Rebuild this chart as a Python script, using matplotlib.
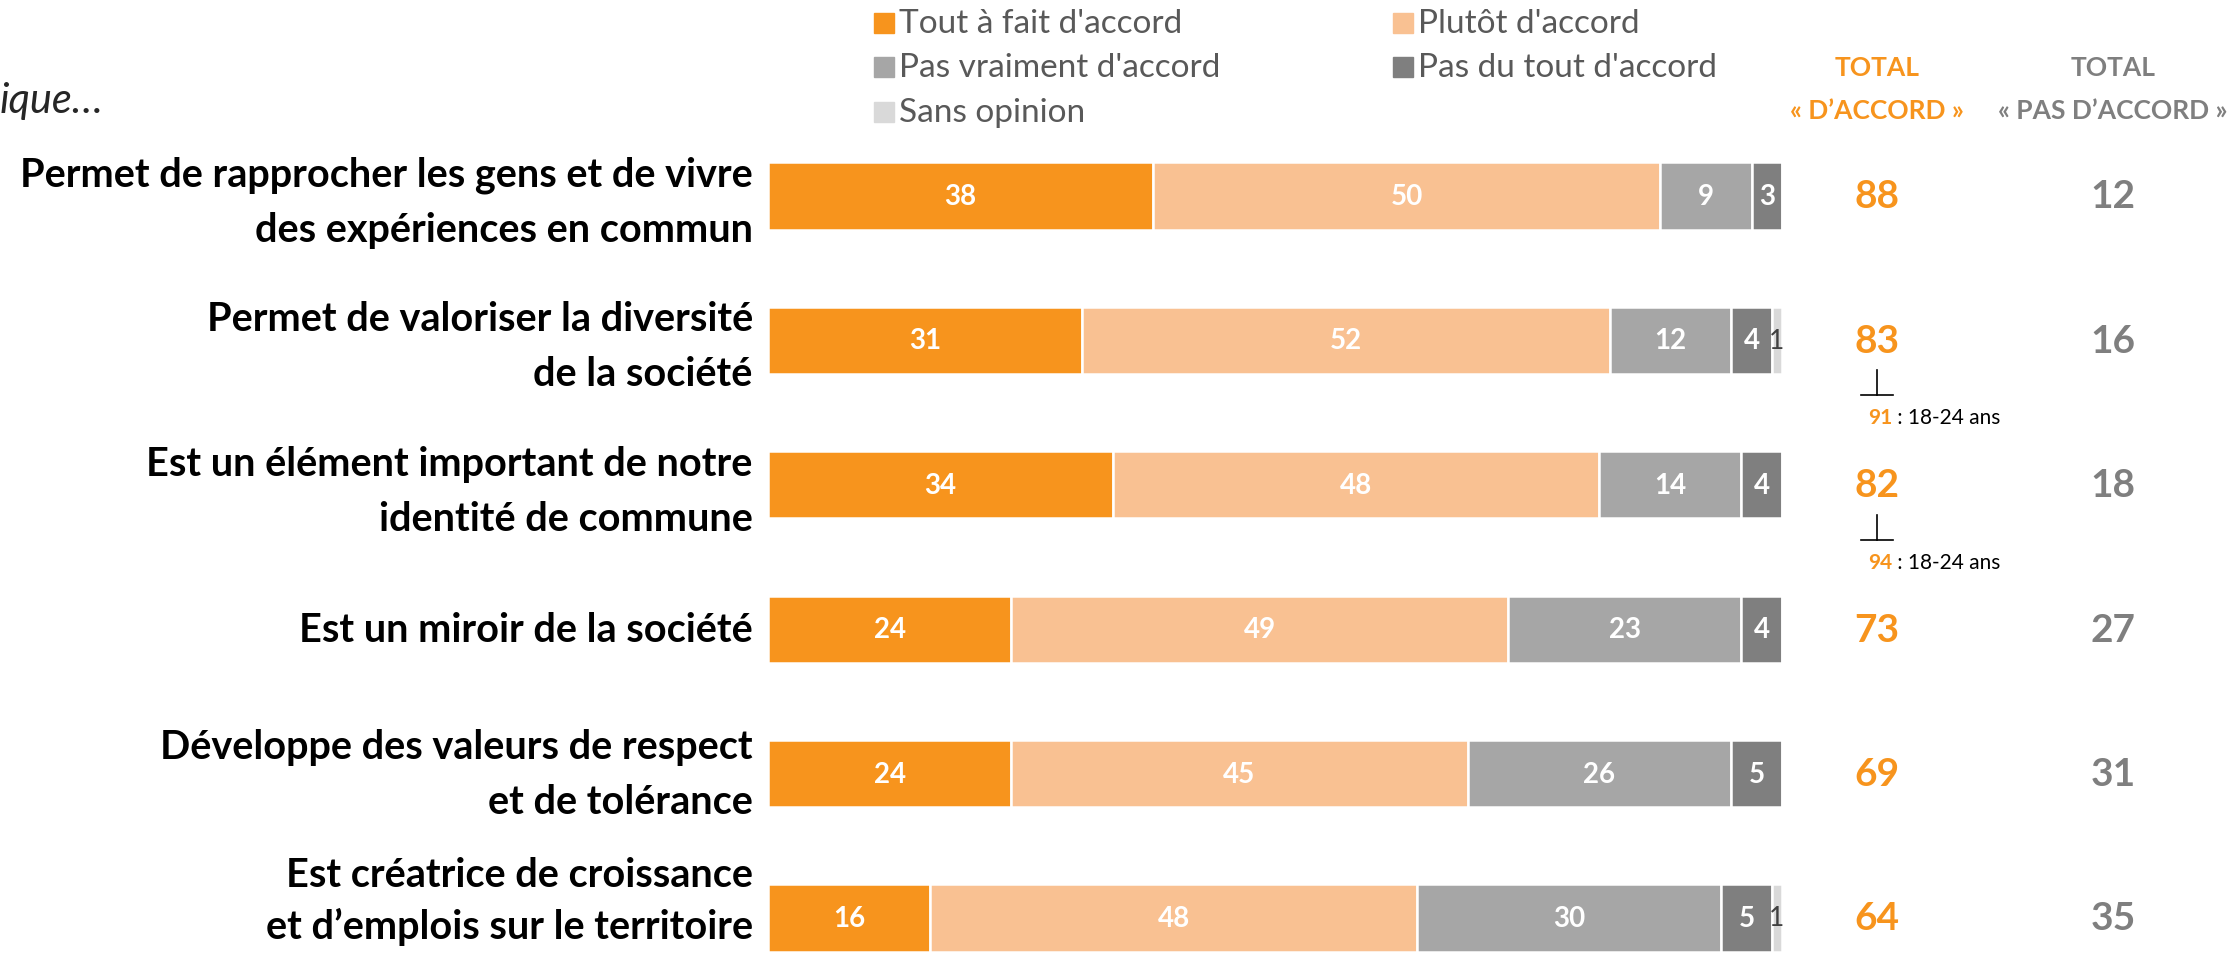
import matplotlib
matplotlib.use("Agg")
import matplotlib.pyplot as plt
from matplotlib.patches import Rectangle

plt.rcParams['font.family'] = ['Lato', 'DejaVu Sans']

categories = [
    "Permet de rapprocher les gens et de vivre\ndes expériences en commun",
    "Permet de valoriser la diversité\nde la société",
    "Est un élément important de notre\nidentité de commune",
    "Est un miroir de la société",
    "Développe des valeurs de respect\net de tolérance",
    "Est créatrice de croissance\net d’emplois sur le territoire",
]
series_names = ["Tout à fait d'accord", "Plutôt d'accord", "Pas vraiment d'accord",
                "Pas du tout d'accord", "Sans opinion"]
tout_a_fait = [38, 31, 34, 24, 24, 16]
plutot = [50, 52, 48, 49, 45, 48]
pas_vraiment = [9, 12, 14, 23, 26, 30]
pas_du_tout = [3, 4, 4, 4, 5, 5]
sans_opinion = [0, 1, 0, 0, 0, 1]
total_accord = [88, 83, 82, 73, 69, 64]
total_pas = [12, 16, 18, 27, 31, 35]
sub_notes = {1: ("91", ": 18-24 ans"), 2: ("94", ": 18-24 ans")}

colors = ["#F7941D", "#F9C192", "#A6A6A6", "#7F7F7F", "#D9D9D9"]
ORANGE = "#F7941D"
GREY = "#7F7F7F"

W, H = 2237, 954
fig = plt.figure(figsize=(W / 100, H / 100), dpi=100)

# bar axes: x 0..100 maps to px 768..1782
x0_px, x1_px = 768, 1782
ax = fig.add_axes([x0_px / W, 0, (x1_px - x0_px) / W, 1])
ax.set_xlim(0, 100)
row0, pitch = 197, 144.4
ax.set_ylim((H - row0) / pitch, -row0 / pitch)
ax.axis("off")

series = [tout_a_fait, plutot, pas_vraiment, pas_du_tout, sans_opinion]
ypos = list(range(len(categories)))
left = [0] * len(categories)
for k, vals in enumerate(series):
    bars = ax.barh(ypos, vals, left=left, height=0.465, color=colors[k],
                   edgecolor="white", linewidth=1.8)
    for i, (b, v) in enumerate(zip(bars, vals)):
        if v == 0:
            continue
        cx = b.get_x() + b.get_width() / 2
        if k == 4:
            ax.text(cx, i, str(v), ha="center", va="center", fontsize=19,
                    color="#404040", clip_on=False)
        else:
            ax.text(cx, i, str(v), ha="center", va="center", fontsize=20,
                    fontweight="bold", color="white")
    left = [l + v for l, v in zip(left, vals)]

# category labels
label_dy = [0.04, 0.04, 0.04, 0.0, 0.0, -0.12]
label_ls = [1.6, 1.6, 1.6, 1.6, 1.6, 1.45]
for i, c in enumerate(categories):
    ax.text(-1.5, i + label_dy[i], c, ha="right", va="center", fontsize=28.5,
            fontweight="bold", color="black", linespacing=label_ls[i])

# totals
ppu = (x1_px - x0_px) / 100
xa = (1877 - x0_px) / ppu
xp = (2113 - x0_px) / ppu
for i in ypos:
    ax.text(xa, i, str(total_accord[i]), ha="center", va="center", fontsize=28,
            fontweight="bold", color=ORANGE, clip_on=False)
    ax.text(xp, i, str(total_pas[i]), ha="center", va="center", fontsize=28,
            fontweight="bold", color=GREY, clip_on=False)

# sub notes (18-24 ans)
for i, (num, lab) in sub_notes.items():
    ytop = i + 30 / pitch
    ybot = i + 55 / pitch
    ax.plot([xa, xa], [ytop, ybot], color="black", lw=1.2, clip_on=False)
    ax.plot([xa - 16 / ppu, xa + 16 / ppu], [ybot, ybot], color="black", lw=1.2,
            clip_on=False)
    t1 = ax.text(xa - 9 / ppu, i + 77 / pitch, num, ha="left", va="center",
                 fontsize=15, fontweight="bold", color=ORANGE, clip_on=False)
    ax.annotate(" " + lab, xy=(1, 0.5), xycoords=t1, ha="left", va="center",
                fontsize=15, color="black")

# headers
ax.text(xa, -(row0 - 68) / pitch, "TOTAL", ha="center", va="center", fontsize=19,
        fontweight="bold", color=ORANGE, clip_on=False)
ax.text(xa, -(row0 - 111) / pitch, "« D’ACCORD »", ha="center", va="center",
        fontsize=19, fontweight="bold", color=ORANGE, clip_on=False)
ax.text(xp, -(row0 - 68) / pitch, "TOTAL", ha="center", va="center", fontsize=19,
        fontweight="bold", color=GREY, clip_on=False)
ax.text(xp, -(row0 - 111) / pitch, "« PAS D’ACCORD »", ha="center", va="center",
        fontsize=19, fontweight="bold", color=GREY, clip_on=False)

# legend (manual, two columns)
leg_pos = [(874, 24), (1393, 24), (874, 68), (1393, 68), (874, 113)]
for k, name in enumerate(series_names):
    px, py = leg_pos[k]
    sq = 20
    fig.patches.append(Rectangle((px / W, 1 - (py + sq / 2) / H), sq / W, sq / H,
                                 transform=fig.transFigure, color=colors[k]))
    fig.text((px + 25) / W, 1 - py / H, name, ha="left", va="center",
             fontsize=24, color="#595959")

# cropped italic question text at top-left
fig.text(0, 1 - 101 / H, "ique…", ha="left", va="center", fontsize=30,
         style="italic", color="#262626")

fig.savefig("out.png", dpi=100)
